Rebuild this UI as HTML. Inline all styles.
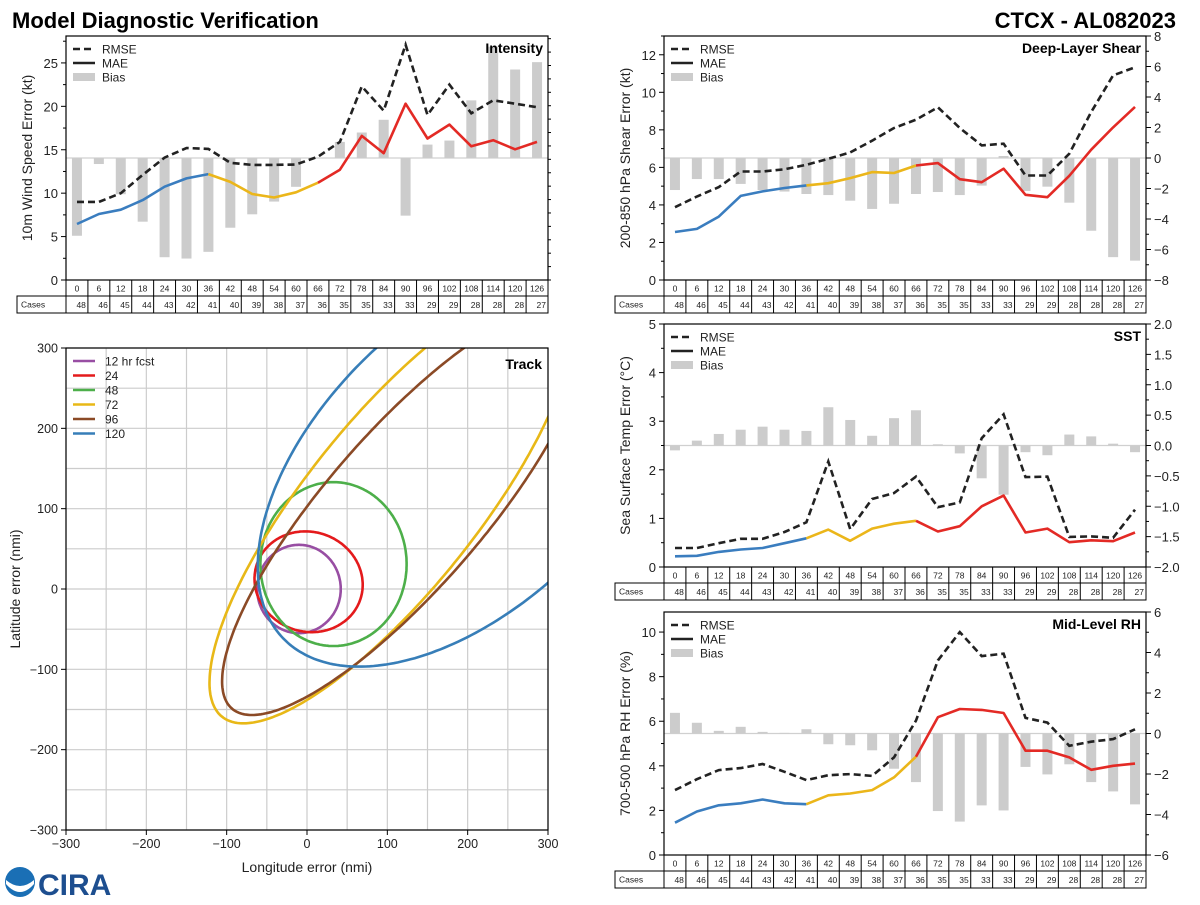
<!DOCTYPE html>
<html><head><meta charset="utf-8"><style>
html,body{margin:0;padding:0;background:#fff;}
svg text{font-family:"Liberation Sans",sans-serif;}
</style></head><body>
<svg id="fig" width="1200" height="900" viewBox="0 0 1200 900" xmlns="http://www.w3.org/2000/svg">
<defs>
<clipPath id="trackClip"><rect x="66" y="348" width="482" height="482"/></clipPath>
</defs>
<text x="12" y="28" font-size="22" font-weight="bold">Model Diagnostic Verification</text>
<text x="1176" y="28" font-size="22" font-weight="bold" text-anchor="end">CTCX - AL082023</text>
<g>
<circle cx="20" cy="882" r="15" fill="#1a6fb5"/>
<path d="M6,880 Q20,892 34,880 L34,884 Q20,900 6,884 Z" fill="#fff"/>
<text x="38" y="895" font-size="30" font-weight="bold" fill="#1d4e8f" font-family="Liberation Serif, serif">CIRA</text>
</g>
</svg>
<script>
const hours=[0,6,12,18,24,30,36,42,48,54,60,66,72,78,84,90,96,102,108,114,120,126];
const cases=[48,46,45,44,43,42,41,40,39,38,37,36,35,35,33,33,29,29,28,28,28,27];

const intRmse=[9.0,9.0,10.0,12.1,14.1,15.2,15.1,13.5,13.25,13.25,13.3,14.2,15.9,22.3,19.5,27.1,19.0,22.5,19.2,20.7,20.3,19.9];
const intMae=[6.45,7.6,8.1,9.2,10.75,11.7,12.2,11.3,9.9,9.5,10.1,11.2,12.7,16.6,14.6,20.3,16.3,17.9,15.4,16.1,15.05,15.9];
const intBias=[-5.8,-0.45,-2.7,-4.75,-7.4,-7.5,-7.0,-5.2,-4.2,-3.25,-2.15,0.0,1.2,1.9,2.85,-4.3,1.0,1.3,4.3,8.3,6.6,7.15];

const shrRmse=[3.88,4.45,4.95,5.78,5.78,5.9,6.14,6.46,6.8,7.42,8.1,8.54,9.2,8.1,7.17,7.26,5.57,5.57,6.73,8.95,10.9,11.33];
const shrMae=[2.56,2.72,3.38,4.48,4.72,4.9,5.04,5.16,5.43,5.75,5.7,6.1,6.23,5.37,5.21,5.93,4.54,4.41,5.55,6.94,8.13,9.22];
const shrBias=[-2.1,-1.38,-1.38,-1.7,-2.1,-2.2,-2.36,-2.43,-2.8,-3.34,-3.0,-2.36,-2.23,-2.43,-1.81,0.13,-2.16,-1.88,-2.93,-4.77,-6.5,-6.73];

const sstRmse=[0.39,0.39,0.49,0.58,0.58,0.72,0.92,2.17,0.78,1.4,1.52,1.86,1.23,1.33,2.65,3.14,1.85,1.86,0.62,0.63,0.6,1.18];
const sstMae=[0.22,0.23,0.31,0.36,0.39,0.49,0.59,0.77,0.54,0.79,0.89,0.95,0.73,0.84,1.25,1.47,0.71,0.79,0.51,0.55,0.53,0.71];
const sstBias=[-0.08,0.08,0.19,0.26,0.31,0.26,0.24,0.63,0.42,0.16,0.45,0.58,0.02,-0.13,-0.54,-0.81,-0.11,-0.16,0.18,0.15,0.03,-0.11];

const rhRmse=[2.91,3.4,3.81,3.9,4.08,3.73,3.36,3.58,3.63,3.55,4.38,6.03,8.73,10.0,8.92,9.03,6.15,5.94,4.9,5.08,5.2,5.64];
const rhMae=[1.45,1.95,2.23,2.32,2.49,2.32,2.28,2.68,2.76,2.91,3.48,4.41,6.18,6.55,6.51,6.37,4.68,4.68,4.38,3.82,4.0,4.1];
const rhBias=[1.02,0.53,0.13,0.33,0.08,0.03,0.21,-0.53,-0.58,-0.83,-1.74,-2.4,-3.83,-4.35,-3.55,-3.8,-1.65,-2.02,-1.52,-2.4,-2.86,-3.5];

// track ellipses: center x, center y, semi-major, semi-minor, angle (deg)
const trackLabels=["12 hr fcst","24","48","72","96","120"];
const trackCx=[-10,2,33,105,121,200];
const trackCy=[0,9,31,104,98,160];
const trackA=[52,68,91,337,327,319];
const trackB=[55,62,102,106,97,180];
const trackAng=[0,-20,0,51.3,49,44];
const trackColors=["#984ea3","#e41a1c","#4daf4a","#e8b817","#8b4a26","#377eb8"];

const NS="http://www.w3.org/2000/svg";
const svg=document.getElementById('fig');
function mk(tag,attrs,parent){const e=document.createElementNS(NS,tag);for(const k in attrs)e.setAttribute(k,attrs[k]);(parent||svg).appendChild(e);return e;}
function fmt(v,d){const s=Math.abs(v).toFixed(d);return (v<-1e-9?"\u2212":"")+s;}
const BLUE="#3a7dbf",YEL="#ebb61a",RED="#e32a25";

function panel(c){
  const g=mk('g',{});
  
  
  const n=hours.length, cw=(c.x1-c.x0)/n;
  const xs=i=>c.x0+cw*(i+0.5);
  const yl=v=>c.y1-(v-c.lmin)/(c.lmax-c.lmin)*(c.y1-c.y0);
  const yr=v=>c.y1-(v-c.rmin)/(c.rmax-c.rmin)*(c.y1-c.y0);
  const zl=mk('line',{x1:c.x0,x2:c.x1,y1:yr(0),y2:yr(0),stroke:'#d0d0d0','stroke-width':1.2},g);
  
  
  c.bias.forEach((b,i)=>{
    const y0=yr(0),y1=yr(b);
    const r=mk('rect',{x:xs(i)-5,y:Math.min(y0,y1),width:10,height:Math.max(0.5,Math.abs(y1-y0)),fill:'#cccccc'},g);
    
    
  });
  const rp=c.rmse.map((v,i)=>(i?'L':'M')+xs(i).toFixed(1)+','+yl(v).toFixed(1)).join(' ');
  const rl=mk('path',{d:rp,fill:'none',stroke:'#222','stroke-width':2.6,'stroke-dasharray':'7,4'},g);
  
  
  const segs=[[0,6,BLUE],[6,11,YEL],[11,n-1,RED]];
  segs.forEach(s=>{
    let d='';for(let i=s[0];i<=s[1];i++)d+=(i===s[0]?'M':'L')+xs(i).toFixed(1)+','+yl(c.mae[i]).toFixed(1)+' ';
    const p=mk('path',{d:d,fill:'none',stroke:s[2],'stroke-width':2.6,'stroke-linejoin':'round'},g);
    
    
  });
  const fr=mk('rect',{x:c.x0,y:c.y0,width:c.x1-c.x0,height:c.y1-c.y0,fill:'none',stroke:'#000','stroke-width':1.2},g);
  
  
  for(let v=c.lmin;v<=c.lmax+1e-6;v+=c.lminor){
    const major=Math.abs(v/c.lstep-Math.round(v/c.lstep))<1e-6;
    mk('line',{x1:c.x0,x2:c.x0-(major?5:3),y1:yl(v),y2:yl(v),stroke:'#000','stroke-width':1},g);
    if(major){const t=mk('text',{x:c.x0-8,y:yl(v)+5,'font-size':13,'text-anchor':'end',fill:'#222'},g);t.textContent=fmt(v,c.ldec);
      
      }
  }
  for(let v=c.rmin;v<=c.rmax+1e-6;v+=c.rminor){
    const major=Math.abs(v/c.rstep-Math.round(v/c.rstep))<1e-6;
    mk('line',{x1:c.x1,x2:c.x1+(major?5:3),y1:yr(v),y2:yr(v),stroke:'#000','stroke-width':1},g);
    if(major){const t=mk('text',{x:c.x1+8,y:yr(v)+5,'font-size':13,fill:'#222'},g);t.textContent=fmt(v,c.rdec);
      
      }
  }
  const yt=mk('text',{x:0,y:0,'font-size':14,'text-anchor':'middle',fill:'#222',transform:'translate('+(c.x0-34)+','+((c.y0+c.y1)/2)+') rotate(-90)'},g);
  yt.textContent=c.ylabel;
  
  
  const tt=mk('text',{x:c.x1-5,y:c.y0+17,'font-size':14,'font-weight':'bold','text-anchor':'end'},g);
  tt.textContent=c.title;
  
  
  const lx=c.x0+7,ly=c.y0+13;
  mk('line',{x1:lx,x2:lx+22,y1:ly,y2:ly,stroke:'#222','stroke-width':2.6,'stroke-dasharray':'7,4'},g);
  mk('line',{x1:lx,x2:lx+22,y1:ly+14,y2:ly+14,stroke:'#222','stroke-width':2.6},g);
  mk('rect',{x:lx,y:ly+24,width:22,height:8,fill:'#cccccc'},g);
  [['RMSE',0],['MAE',14],['Bias',28]].forEach(a=>{const t=mk('text',{x:lx+29,y:ly+a[1]+4.5,'font-size':12,fill:'#222'},g);t.textContent=a[0];
    
    });
  const r1=c.y1,r2=c.y1+16,r3=c.y1+33;
  mk('rect',{x:c.x0,y:r1,width:c.x1-c.x0,height:r3-r1,fill:'none',stroke:'#000','stroke-width':1},g);
  mk('rect',{x:c.x0-49,y:r2,width:49,height:r3-r2,fill:'none',stroke:'#000','stroke-width':1},g);
  mk('line',{x1:c.x0,x2:c.x1,y1:r2,y2:r2,stroke:'#000','stroke-width':1},g);
  const cl=mk('text',{x:c.x0-45,y:r2+11.5,'font-size':8.5,fill:'#222'},g);cl.textContent='Cases';
  
  
  for(let i=0;i<n;i++){
    if(i>0)mk('line',{x1:c.x0+cw*i,x2:c.x0+cw*i,y1:r1,y2:r3,stroke:'#000','stroke-width':1},g);
    const h=mk('text',{x:xs(i),y:r1+11.5,'font-size':8.5,'text-anchor':'middle',fill:'#222'},g);h.textContent=hours[i];
    
    
    const k=mk('text',{x:c.x0+cw*(i+1)-2,y:r2+12,'font-size':8.5,'text-anchor':'end',fill:'#222'},g);k.textContent=cases[i];
    
    
  }
}
panel({name:'intensity',x0:66,x1:548,y0:36,y1:280,lmin:0,lmax:28.1,lstep:5,lminor:2.5,ldec:0,rmin:-9.1,rmax:9.1,rstep:2,rminor:1,rdec:0,title:'Intensity',ylabel:'10m Wind Speed Error (kt)',rmse:intRmse,mae:intMae,bias:intBias});
panel({name:'shear',x0:664,x1:1146,y0:36,y1:280,lmin:0,lmax:13,lstep:2,lminor:1,ldec:0,rmin:-8,rmax:8,rstep:2,rminor:1,rdec:0,title:'Deep-Layer Shear',ylabel:'200-850 hPa Shear Error (kt)',rmse:shrRmse,mae:shrMae,bias:shrBias});
panel({name:'sst',x0:664,x1:1146,y0:324,y1:567,lmin:0,lmax:5,lstep:1,lminor:0.5,ldec:0,rmin:-2,rmax:2,rstep:0.5,rminor:0.25,rdec:1,title:'SST',ylabel:'Sea Surface Temp Error (\u00B0C)',rmse:sstRmse,mae:sstMae,bias:sstBias});
panel({name:'rh',x0:664,x1:1146,y0:612,y1:855,lmin:0,lmax:10.9,lstep:2,lminor:1,ldec:0,rmin:-6,rmax:6,rstep:2,rminor:1,rdec:0,title:'Mid-Level RH',ylabel:'700-500 hPa RH Error (%)',rmse:rhRmse,mae:rhMae,bias:rhBias});

(function(){
  const x0=66,x1=548,y0=348,y1=830;
  const X=v=>x0+(v+300)/600*(x1-x0);
  const Y=v=>y1-(v+300)/600*(y1-y0);
  const g=mk('g',{});
  
  
  for(let v=-300;v<=300;v+=50){
    const a=mk('line',{x1:X(v),x2:X(v),y1:y0,y2:y1,stroke:'#cccccc','stroke-width':1.2},g);
    
    
    const b=mk('line',{x1:x0,x2:x1,y1:Y(v),y2:Y(v),stroke:'#cccccc','stroke-width':1.2},g);
    
    
  }
  const cg=mk('g',{'clip-path':'url(#trackClip)'},g);
  trackLabels.forEach((lab,k)=>{
    const th=trackAng[k]*Math.PI/180;let d='';
    for(let j=0;j<=300;j++){const t=j/300*2*Math.PI;
      const ex=trackA[k]*Math.cos(t),ey=trackB[k]*Math.sin(t);
      const px=trackCx[k]+ex*Math.cos(th)-ey*Math.sin(th),py=trackCy[k]+ex*Math.sin(th)+ey*Math.cos(th);
      d+=(j?'L':'M')+X(px).toFixed(1)+','+Y(py).toFixed(1)+' ';}
    const p=mk('path',{d:d+'Z',fill:'none',stroke:trackColors[k],'stroke-width':2.6},cg);
    
    
    const ly=361+k*14.5;
    const ll=mk('line',{x1:73,x2:95,y1:ly,y2:ly,stroke:trackColors[k],'stroke-width':2.6},g);
    
    
    const lt=mk('text',{x:105,y:ly+4.5,'font-size':12,fill:'#222'},g);lt.textContent=lab;
    
    
  });
  const fr=mk('rect',{x:x0,y:y0,width:x1-x0,height:y1-y0,fill:'none',stroke:'#000','stroke-width':1.2},g);
  
  
  for(let v=-300;v<=300;v+=100){
    mk('line',{x1:X(v),x2:X(v),y1:y1,y2:y1+5,stroke:'#000'},g);
    mk('line',{x1:x0,x2:x0-5,y1:Y(v),y2:Y(v),stroke:'#000'},g);
    const tx=mk('text',{x:X(v),y:y1+18,'font-size':12.5,'text-anchor':'middle',fill:'#222'},g);tx.textContent=fmt(v,0);
    
    
    const ty=mk('text',{x:x0-8,y:Y(v)+4.5,'font-size':12.5,'text-anchor':'end',fill:'#222'},g);ty.textContent=fmt(v,0);
    
    
  }
  const xt=mk('text',{x:307,y:872,'font-size':14,'text-anchor':'middle',fill:'#222'},g);xt.textContent='Longitude error (nmi)';
  
  
  const yt=mk('text',{x:0,y:0,'font-size':14,'text-anchor':'middle',fill:'#222',transform:'translate(20,589) rotate(-90)'},g);yt.textContent='Latitude error (nmi)';
  
  
  const tt=mk('text',{x:542,y:369,'font-size':14,'font-weight':'bold','text-anchor':'end'},g);tt.textContent='Track';
  
  
})();
</script>
</body></html>
